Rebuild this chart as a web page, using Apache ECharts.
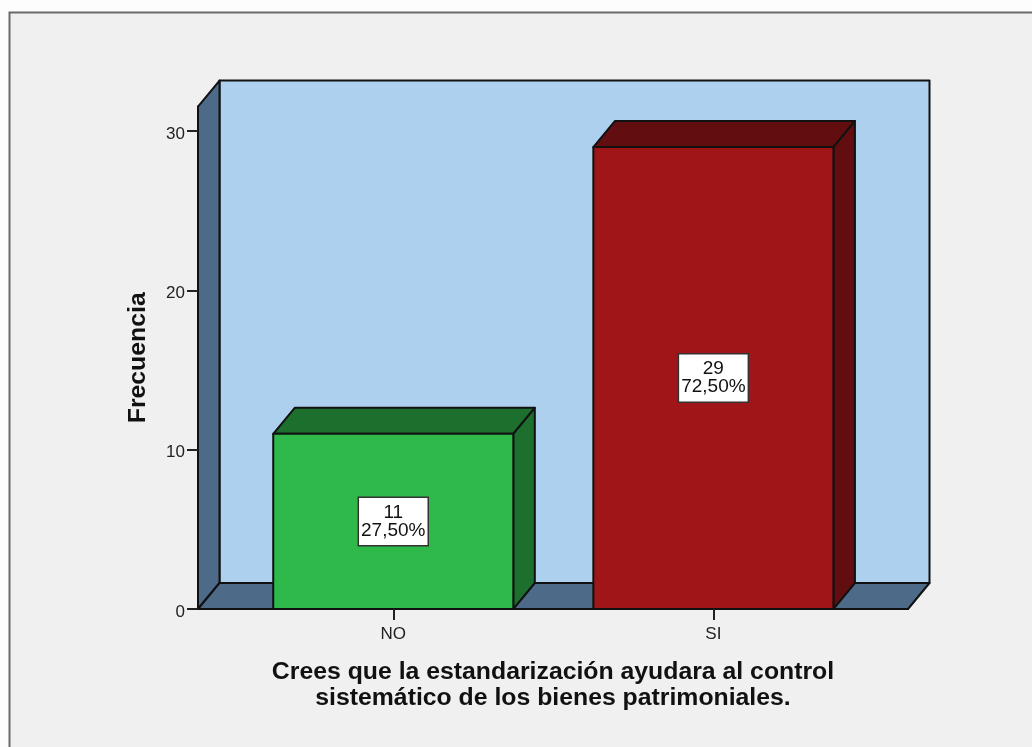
<!DOCTYPE html>
<html>
<head>
<meta charset="utf-8">
<style>
html, body { margin: 0; padding: 0; background: #fdfdfd; }
#main { width: 1032px; height: 747px; }
</style>
<script src="https://cdn.jsdelivr.net/npm/echarts@6/dist/echarts.min.js"></script>
</head>
<body>
<div id="main"></div>
<script>
const categories = ['NO', 'SI']
const frecuencia = [11, 29]
const porcentajes = ['27,50%', '72,50%']
const yTicks = [0, 10, 20, 30]
const xPositions = [0, 1]
const faceColors = ['#2fb94b', '#a01518']
const shadeColors = ['#1c6f2d', '#620e10']

// the fake 3D depth in pixels, same as the old SPSS chart
const depthX = 21.5
const depthY = -26
const barWidth = 0.75
const xMin = -0.61
const xMax = 1.608
const yMax = 31.54
const edge = '#111'

const myChart = echarts.init(document.getElementById('main'))

function poly (points, fill) {
  return {
    type: 'polygon',
    shape: { points: points },
    style: { fill: fill, stroke: edge, lineWidth: 2, lineJoin: 'round' }
  }
}

function renderWalls (params, api) {
  const a = api.coord([xMin, 0])
  const b = api.coord([xMax, 0])
  const c = api.coord([xMin, yMax])
  const off = p => [p[0] + depthX, p[1] + depthY]
  const d = off(b)
  const e = off(a)
  const f = off(c)
  const g = [d[0], f[1]]
  return {
    type: 'group',
    children: [
      poly([e, d, g, f], '#aed0ef'),
      poly([a, e, f, c], '#4d6b88'),
      poly([a, b, d, e], '#4d6b88')
    ]
  }
}

function renderBar (params, api) {
  const i = params.dataIndex
  const x = api.value(0)
  const top = api.value(1)
  const p0 = api.coord([x - barWidth / 2, 0])
  const p1 = api.coord([x + barWidth / 2, 0])
  const p2 = api.coord([x + barWidth / 2, top])
  const p3 = api.coord([x - barWidth / 2, top])
  const off = p => [p[0] + depthX, p[1] + depthY]
  return {
    type: 'group',
    children: [
      poly([p3, p2, off(p2), off(p3)], shadeColors[i]),
      poly([p1, off(p1), off(p2), p2], shadeColors[i]),
      poly([p0, p1, p2, p3], faceColors[i])
    ]
  }
}

const option = {
  animation: false,
  graphic: [{
    type: 'rect',
    shape: { x: 9.5, y: 12.5, width: 1200, height: 900 },
    style: { fill: '#f0f0f0', stroke: '#6a6a6a', lineWidth: 2 }
  }],
  grid: { left: 198, width: 710, top: 106.6, height: 502.4 },
  xAxis: {
    type: 'value',
    z: 5,
    min: xMin,
    max: xMax,
    splitLine: { show: false },
    axisLine: { show: true, onZero: false, lineStyle: { color: edge, width: 2 } },
    axisTick: { show: true, customValues: xPositions, length: 11, lineStyle: { color: '#222', width: 2 } },
    axisLabel: {
      customValues: xPositions,
      formatter: v => categories[v],
      color: '#222',
      fontFamily: 'Liberation Sans',
      fontSize: 17,
      margin: 17
    },
    name: 'Crees que la estandarización ayudara al control\nsistemático de los bienes patrimoniales.',
    nameLocation: 'middle',
    nameGap: 50,
    nameTextStyle: { color: '#111', fontFamily: 'Liberation Sans', fontWeight: 'bold', fontSize: 24.8, lineHeight: 26 }
  },
  yAxis: {
    type: 'value',
    z: 5,
    min: 0,
    max: yMax,
    splitLine: { show: false },
    axisLine: { show: true, onZero: false, lineStyle: { color: edge, width: 2 } },
    axisTick: { show: true, customValues: yTicks, length: 11, lineStyle: { color: '#222', width: 2 } },
    axisLabel: {
      customValues: yTicks,
      color: '#222',
      fontFamily: 'Liberation Sans',
      fontSize: 17,
      margin: 13,
      verticalAlign: 'top',
      lineHeight: 6
    },
    name: 'Frecuencia',
    nameLocation: 'middle',
    nameRotate: 90,
    nameGap: 47,
    nameTextStyle: { color: '#111', fontFamily: 'Liberation Sans', fontWeight: 'bold', fontSize: 24.8 }
  },
  series: [
    {
      type: 'custom',
      coordinateSystem: 'cartesian2d',
      clip: false,
      silent: true,
      z: 1,
      renderItem: renderWalls,
      data: [[0, 0]]
    },
    {
      type: 'custom',
      coordinateSystem: 'cartesian2d',
      clip: false,
      z: 2,
      renderItem: renderBar,
      encode: { x: 0, y: 1 },
      data: frecuencia.map((v, i) => [xPositions[i], v])
    },
    {
      type: 'scatter',
      symbolSize: 0,
      z: 6,
      itemStyle: { opacity: 1 },
      data: frecuencia.map((v, i) => [xPositions[i], v / 2]),
      label: {
        show: true,
        position: 'inside',
        formatter: p => frecuencia[p.dataIndex] + '\n' + porcentajes[p.dataIndex],
        color: '#111',
        fontFamily: 'Liberation Sans',
        fontSize: 19,
        lineHeight: 18,
        backgroundColor: '#fff',
        borderColor: '#333',
        borderWidth: 1.5,
        padding: [10, 2, 1, 2]
      }
    }
  ]
}

myChart.setOption(option, true)
</script>
</body>
</html>
